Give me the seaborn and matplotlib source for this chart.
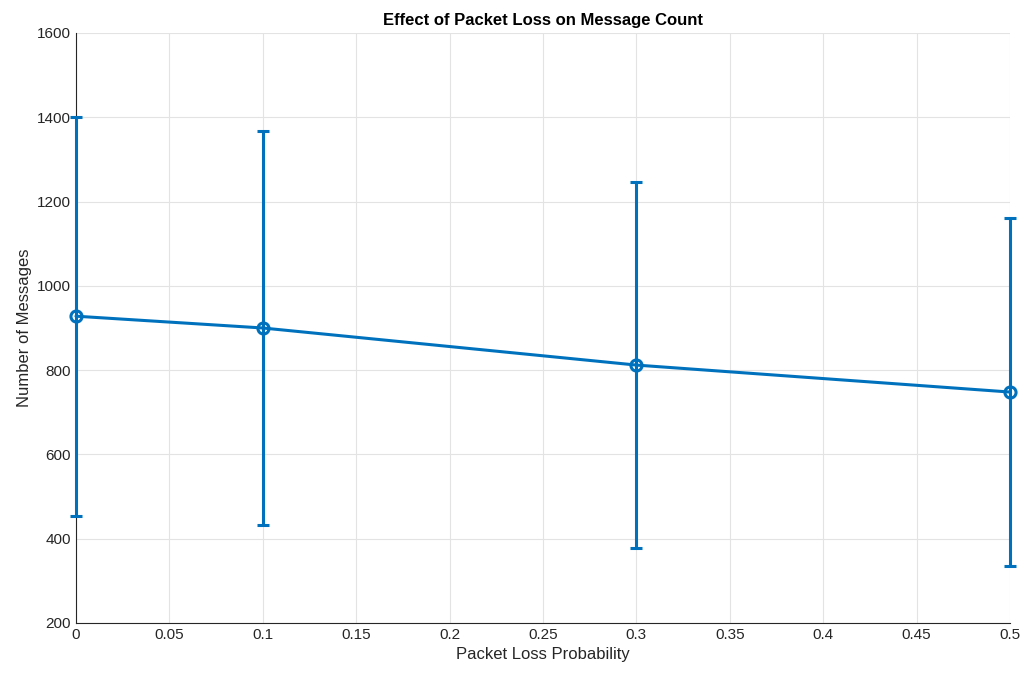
import numpy as np
import pandas as pd
import seaborn as sns
import matplotlib.pyplot as plt

# Data
loss_prob = [0.0, 0.1, 0.3, 0.5]
mean_msgs = [928, 900, 812, 748]
std_msgs = [473, 467, 434, 413]

df = pd.DataFrame({'loss': loss_prob, 'msgs': mean_msgs, 'err': std_msgs})

sns.set_style('white')
plt.rcParams['font.family'] = ['Liberation Sans', 'DejaVu Sans']

blue = '#0072BD'
fig = plt.figure(figsize=(10.25, 6.73), dpi=100)
ax = fig.add_axes([0.0741, 0.0743, 0.9113, 0.8767])

eb = ax.errorbar(df['loss'], df['msgs'], yerr=df['err'], fmt='none', ecolor=blue,
                 elinewidth=2.2, capsize=4, capthick=2.2, zorder=3)
for art in eb.get_children():
    art.set_clip_on(False)
sns.lineplot(data=df, x='loss', y='msgs', ax=ax, color=blue, linewidth=2.2,
             marker='o', markersize=8, markerfacecolor='none',
             markeredgecolor=blue, markeredgewidth=2.2, zorder=4)
for ln in ax.lines:
    ln.set_clip_on(False)

ax.set_xlim(0, 0.5)
ax.set_ylim(200, 1600)
ax.set_xticks(np.arange(0, 0.51, 0.05))
ax.set_xticklabels(['0', '0.05', '0.1', '0.15', '0.2', '0.25', '0.3', '0.35', '0.4', '0.45', '0.5'])
ax.set_yticks(range(200, 1601, 200))
ax.grid(True, color='#e3e3e3', linewidth=0.8)
ax.set_axisbelow(True)
for s in ['top', 'right']:
    ax.spines[s].set_visible(False)
for s in ['left', 'bottom']:
    ax.spines[s].set_color('#262626')
    ax.spines[s].set_linewidth(0.8)
ax.tick_params(direction='in', length=5, width=0.8, colors='#262626',
               labelsize=11, labelcolor='#262626')

ax.set_xlabel('Packet Loss Probability', fontsize=12, color='#262626')
ax.set_ylabel('Number of Messages', fontsize=12, color='#262626')
ax.set_title('Effect of Packet Loss on Message Count', fontsize=12,
             fontweight='bold', color='black', pad=6)

fig.savefig('out.png', dpi=100)
